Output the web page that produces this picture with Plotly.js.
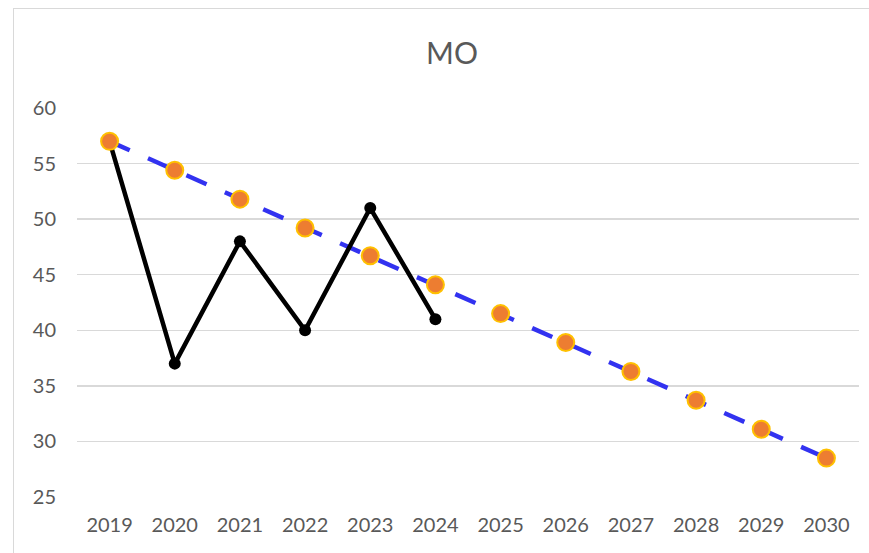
<!DOCTYPE html>
<html>
<head>
<meta charset="utf-8">
<script src="https://cdn.plot.ly/plotly-3.0.1.min.js"></script>
<style>
  html, body { margin: 0; padding: 0; background: #ffffff; }
  #frame { position: absolute; left: 13px; top: 8px; width: 900px; height: 600px;
           border: 1.5px solid #d9d9d9; box-sizing: border-box; }
  #chart { position: absolute; left: 0; top: 0; width: 869px; height: 553px; }
</style>
</head>
<body>
<div id="frame"></div>
<div id="chart"></div>
<script>
const years = ["2019","2020","2021","2022","2023","2024","2025","2026","2027","2028","2029","2030"];
const actualYears = ["2019","2020","2021","2022","2023","2024"];
const actualValues = [57, 37, 48, 40, 51, 41];
const forecastValues = [57, 54.4, 51.8, 49.2, 46.7, 44.1, 41.5, 38.9, 36.3, 33.7, 31.1, 28.5];
const trendYears = ["2019", "2030"];
const trendValues = [57, 28.5];
const yTicks = [25, 30, 35, 40, 45, 50, 55, 60];
const chartTitle = "MO";

const traces = [
  {
    x: trendYears, y: trendValues, type: "scatter", mode: "lines",
    line: { color: "#3232F0", width: 4.5, dash: "22px,20px" },
    hoverinfo: "skip", showlegend: false
  },
  {
    x: actualYears, y: actualValues, type: "scatter", mode: "lines+markers",
    line: { color: "#000000", width: 4.5 },
    marker: { color: "#000000", size: 12 },
    showlegend: false
  },
  {
    x: years, y: forecastValues, type: "scatter", mode: "markers",
    marker: { color: "#ED7D31", size: 17, line: { color: "#FFC000", width: 2 } },
    showlegend: false
  }
];

const layout = {
  width: 869, height: 553,
  margin: { l: 77, r: 10, t: 108, b: 56 },
  paper_bgcolor: "rgba(0,0,0,0)",
  plot_bgcolor: "rgba(0,0,0,0)",
  font: { family: "Lato, 'Open Sans', sans-serif", color: "#595959", size: 20 },
  title: {
    text: chartTitle,
    font: { family: "Lato, 'Open Sans', sans-serif", size: 30, color: "#595959" },
    x: 452 / 869, xref: "container", xanchor: "center",
    y: 1 - 53 / 553, yref: "container", yanchor: "middle"
  },
  xaxis: {
    type: "category", categoryarray: years, categoryorder: "array",
    range: [-0.5, 11.5],
    showgrid: false, zeroline: false, showline: false, ticks: "",
    ticklabelstandoff: 14,
    tickfont: { size: 20, color: "#595959" }
  },
  yaxis: {
    range: [25, 60], tickvals: yTicks, ticktext: yTicks.map(String),
    showgrid: true, gridcolor: "#d9d9d9", gridwidth: 1.5,
    zeroline: false, showline: false, ticks: "",
    ticklabelstandoff: 20,
    tickfont: { size: 20, color: "#595959" }
  },
  showlegend: false
};

Plotly.newPlot("chart", traces, layout, { displayModeBar: false, staticPlot: true });
</script>
</body>
</html>
